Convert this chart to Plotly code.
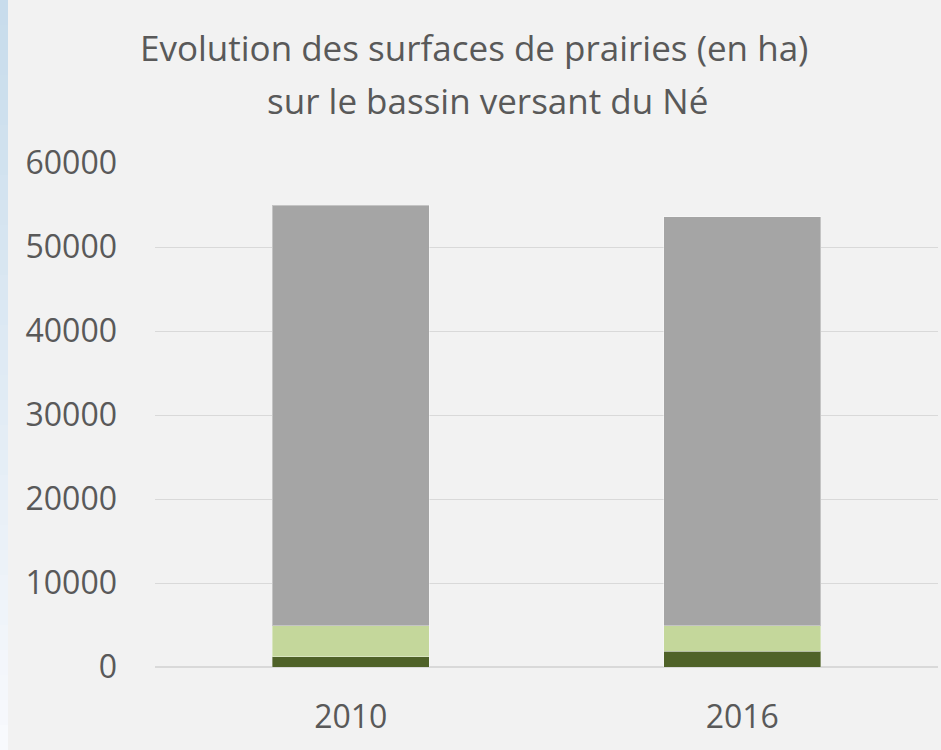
import plotly.graph_objects as go

years = ["2010", "2016"]
dark_green = [1250, 1900]
light_green = [3650, 3000]
grey = [50100, 48700]
y_ticks = [0, 10000, 20000, 30000, 40000, 50000, 60000]
y_tick_labels = ["0", "10000", "20000", "30000", "40000", "50000", "60000"]
title_lines = ["Evolution des surfaces de prairies (en ha)",
               "sur le bassin versant du Né"]

FONT = "Open Sans"
TXT = "#595959"
W, H = 941, 750
L, R, T, B = 155, 3, 163, 83
pw, ph = W - L - R, H - T - B

fig = go.Figure()
for name, vals, col in [("dark", dark_green, "#4f6228"),
                        ("light", light_green, "#c4d79b"),
                        ("grey", grey, "#a5a5a5")]:
    fig.add_trace(go.Bar(x=years, y=vals, name=name, marker_color=col,
                         marker_line=dict(color="rgba(255,255,255,0.35)", width=1),
                         hoverinfo="y"))

# left gradient strip
shapes = []
n = 30
c0 = (200, 220, 236)
c1 = (248, 250, 253)
for i in range(n):
    t = i / (n - 1)
    c = tuple(int(c0[k] + (c1[k] - c0[k]) * t) for k in range(3))
    y_top = i * H / n
    y_bot = (i + 1) * H / n + 1
    shapes.append(dict(type="rect", xref="paper", yref="paper",
                       x0=(0 - L) / pw, x1=(8 - L) / pw,
                       y0=(H - B - y_bot) / ph, y1=(H - B - y_top) / ph,
                       fillcolor="rgb(%d,%d,%d)" % c, line_width=0, layer="below"))

def py(pix):
    return (H - B - pix) / ph

annotations = [
    dict(text=title_lines[0], x=(474 - L) / pw, y=py(48), xref="paper", yref="paper",
         xanchor="center", yanchor="middle", showarrow=False,
         font=dict(family=FONT, size=35, color=TXT)),
    dict(text=title_lines[1], x=(487 - L) / pw, y=py(100), xref="paper", yref="paper",
         xanchor="center", yanchor="middle", showarrow=False,
         font=dict(family=FONT, size=35, color=TXT)),
]

fig.update_layout(
    width=W, height=H,
    barmode="stack", bargap=0.6,
    paper_bgcolor="#f2f2f2", plot_bgcolor="#f2f2f2",
    margin=dict(l=L, r=R, t=T, b=B),
    showlegend=False,
    shapes=shapes,
    annotations=annotations,
    font=dict(family=FONT, size=32, color=TXT),
    xaxis=dict(showgrid=False, showline=False, ticks="",
               ticklabelstandoff=28,
               tickfont=dict(family=FONT, size=32, color=TXT)),
    yaxis=dict(range=[0, 60000], tickvals=y_ticks, ticktext=y_tick_labels,
               showgrid=True, gridcolor="#d9d9d9", gridwidth=1, zeroline=True,
               zerolinecolor="#d9d9d9", zerolinewidth=2, ticks="",
               ticklabelstandoff=37,
               tickfont=dict(family=FONT, size=32, color=TXT)),
)
fig.write_html("out.html", config={"displayModeBar": False},
               post_script="document.body.style.margin='0';document.body.style.background='#f2f2f2';")
